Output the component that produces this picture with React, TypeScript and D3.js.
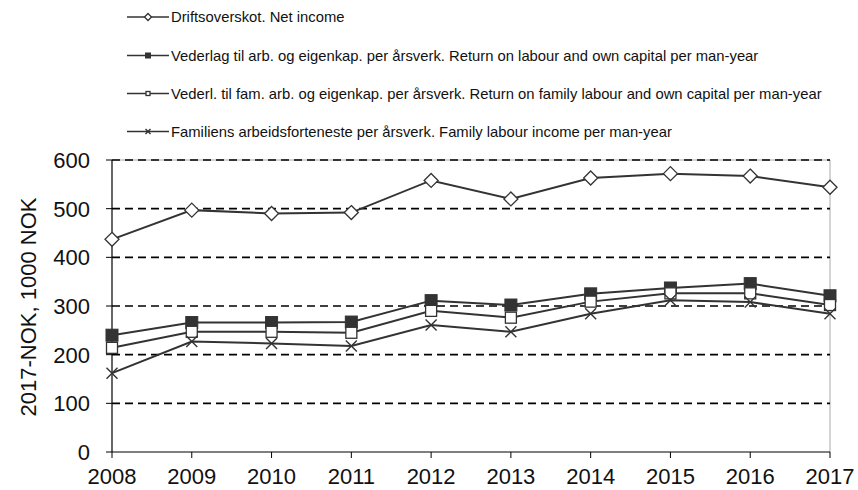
import React from "react";
import * as d3 from "d3";

const years = [2008, 2009, 2010, 2011, 2012, 2013, 2014, 2015, 2016, 2017];
const netIncome = [437, 497, 490, 492, 558, 520, 563, 572, 567, 544];
const returnLabourCapital = [240, 266, 266, 267, 311, 302, 325, 337, 346, 321];
const returnFamilyLabourCapital = [214, 247, 247, 245, 290, 276, 309, 326, 326, 302];
const familyLabourIncome = [162, 227, 223, 218, 261, 247, 284, 312, 308, 284];
const yTicks = [0, 100, 200, 300, 400, 500, 600];

const legendLabels = [
  "Driftsoverskot. Net income",
  "Vederlag til arb. og eigenkap. per årsverk. Return on labour and own capital per man-year",
  "Vederl. til fam. arb. og eigenkap. per årsverk. Return on family labour and own capital per man-year",
  "Familiens arbeidsforteneste per årsverk. Family labour income per man-year",
];
const yTitle = "2017-NOK, 1000 NOK";

const series = [
  { values: netIncome, marker: "diamond" },
  { values: returnLabourCapital, marker: "filledSquare" },
  { values: returnFamilyLabourCapital, marker: "openSquare" },
  { values: familyLabourIncome, marker: "cross" },
];

const C = "#333333";

function Marker({ type, x, y, s }: { type: string; x: number; y: number; s: number }) {
  const h = s / 2;
  if (type === "diamond") {
    return (
      <path
        d={`M${x},${y - h - 1}L${x + h + 1},${y}L${x},${y + h + 1}L${x - h - 1},${y}Z`}
        fill="#fff"
        stroke={C}
        strokeWidth={1.3}
      />
    );
  }
  if (type === "filledSquare") {
    return <rect x={x - h} y={y - h} width={s} height={s} fill={C} stroke={C} strokeWidth={1} />;
  }
  if (type === "openSquare") {
    return <rect x={x - h + 0.5} y={y - h + 0.5} width={s - 1} height={s - 1} fill="#fff" stroke={C} strokeWidth={1.3} />;
  }
  return (
    <path
      d={`M${x - h},${y - h}L${x + h},${y + h}M${x - h},${y + h}L${x + h},${y - h}`}
      stroke={C}
      strokeWidth={1.4}
      fill="none"
    />
  );
}

export default function App() {
  const W = 858;
  const H = 490;
  const left = 112;
  const right = 830;
  const top = 160;
  const bottom = 452;
  const x = d3.scaleLinear().domain([2008, 2017]).range([left, right]);
  const y = d3.scaleLinear().domain([0, 600]).range([bottom, top]);
  const line = d3
    .line<number>()
    .x((_, i) => x(years[i]))
    .y((v) => y(v));

  const font = "Arial, 'Liberation Sans', sans-serif";
  const legendY = [17, 55.5, 93.5, 131.5];
  const legendMarkers = ["diamond", "filledSquare", "openSquare", "cross"];

  return (
    <svg width={W} height={H} style={{ position: "absolute", left: 0, top: 0 }} fontFamily={font}>
      <rect width={W} height={H} fill="#fff" />
      {/* legend */}
      {legendLabels.map((lab, i) => (
        <g key={i}>
          <line x1={127} x2={169} y1={legendY[i]} y2={legendY[i]} stroke={C} strokeWidth={1.5} />
          <Marker type={legendMarkers[i]} x={148} y={legendY[i]} s={5} />
          <text x={171} y={legendY[i]} dy="0.35em" fontSize={14.8} fill="#111">
            {lab}
          </text>
        </g>
      ))}
      {/* plot border (gray) */}
      <line x1={left} x2={right} y1={top} y2={top} stroke="#aaa" strokeWidth={1} />
      <line x1={right} x2={right} y1={top} y2={bottom} stroke="#aaa" strokeWidth={1} />
      {/* gridlines */}
      {yTicks
        .filter((t) => t > 0)
        .map((t) => (
          <line
            key={t}
            x1={left}
            x2={right}
            y1={y(t)}
            y2={y(t)}
            stroke="#000"
            strokeWidth={1.6}
            strokeDasharray="8,5"
          />
        ))}
      {/* axes */}
      <line x1={left} x2={left} y1={top} y2={bottom} stroke="#000" strokeWidth={1.2} />
      <line x1={left} x2={right} y1={bottom} y2={bottom} stroke="#000" strokeWidth={1.2} />
      {yTicks.map((t) => (
        <g key={t}>
          <line x1={left - 6} x2={left} y1={y(t)} y2={y(t)} stroke="#000" strokeWidth={1} />
          <text x={90} y={y(t)} dy="0.36em" textAnchor="end" fontSize={22} fill="#111">
            {t}
          </text>
        </g>
      ))}
      {years.map((yr) => (
        <g key={yr}>
          <line x1={x(yr)} x2={x(yr)} y1={bottom} y2={bottom + 6} stroke="#000" strokeWidth={1} />
          <text x={x(yr)} y={484} textAnchor="middle" fontSize={22} fill="#111">
            {yr}
          </text>
        </g>
      ))}
      <text
        transform={`translate(36,307) rotate(-90)`}
        textAnchor="middle"
        fontSize={22}
        fill="#111"
      >
        {yTitle}
      </text>
      {/* series */}
      {series.map((s, si) => (
        <g key={si}>
          <path d={line(s.values) || ""} fill="none" stroke={C} strokeWidth={2} />
          {s.values.map((v, i) => (
            <Marker key={i} type={s.marker} x={x(years[i])} y={y(v)} s={s.marker === "cross" ? 11 : 12} />
          ))}
        </g>
      ))}
    </svg>
  );
}
